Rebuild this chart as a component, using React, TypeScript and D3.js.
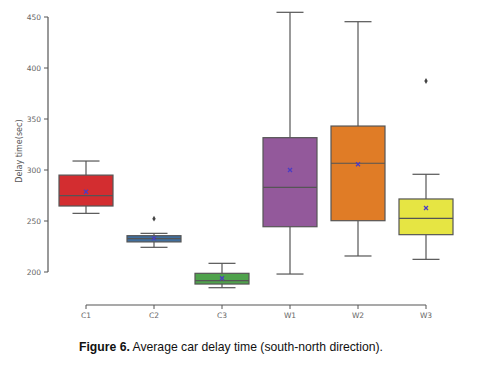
import React from "react";
import * as d3 from "d3";

const categories = ["C1", "C2", "C3", "W1", "W2", "W3"];
const whiskerLow = [257.5, 224.2, 184.6, 198, 215.7, 212.4];
const q1 = [264.7, 229.5, 188.2, 244.4, 250.3, 236.6];
const medians = [274.8, 232.7, 191.5, 283, 306.6, 252.6];
const q3 = [295, 235.6, 198.7, 331.7, 343.1, 271.6];
const whiskerHigh = [308.8, 237.9, 208.5, 454.6, 445.4, 295.8];
const means = [278.7, 233, 193.8, 300, 305.6, 262.7];
const outliers: [string, number][] = [["C2", 252.3], ["W3", 387.3]];
const colors = ["#d32d30", "#3f6e9e", "#4fa24c", "#93599b", "#e07c26", "#e6e543"];
const yTicks = [200, 250, 300, 350, 400, 450];

export default function App() {
  const W = 480, H = 373;
  const y = d3.scaleLinear().domain([200, 450]).range([272, 17]);
  const x = d3.scalePoint<string>().domain(categories).range([86, 426]);
  const bw = 54;
  const axisColor = "#555";
  const edge = "#555";
  return (
    <svg width={W} height={H} style={{ position: "absolute", left: 0, top: 0, background: "#fff" }}>
      {/* y axis */}
      <line x1={48} x2={48} y1={y(200)} y2={y(450)} stroke={axisColor} strokeWidth={1.2} />
      {yTicks.map((t) => (
        <g key={t}>
          <line x1={44} x2={48} y1={y(t)} y2={y(t)} stroke={axisColor} strokeWidth={1} />
          <text x={41} y={y(t)} dy="0.35em" textAnchor="end" fontSize={7.5} fill="#666" fontFamily="DejaVu Sans">
            {t}
          </text>
        </g>
      ))}
      <text
        transform={`translate(22,${y(318.5)}) rotate(-90)`}
        textAnchor="middle"
        fontSize={8}
        fill="#555"
        fontFamily="DejaVu Sans"
      >
        Delay time(sec)
      </text>
      {/* x axis */}
      <line x1={x("C1")} x2={x("W3")} y1={305} y2={305} stroke={axisColor} strokeWidth={1.2} />
      {categories.map((c) => (
        <g key={c}>
          <line x1={x(c)} x2={x(c)} y1={305} y2={309} stroke={axisColor} strokeWidth={1} />
          <text x={x(c)} y={318} textAnchor="middle" fontSize={7.5} fill="#666" fontFamily="DejaVu Sans">
            {c}
          </text>
        </g>
      ))}
      {/* boxes */}
      {categories.map((c, i) => {
        const cx = x(c) as number;
        return (
          <g key={c}>
            <line x1={cx} x2={cx} y1={y(whiskerHigh[i])} y2={y(q3[i])} stroke={edge} strokeWidth={1.2} />
            <line x1={cx} x2={cx} y1={y(q1[i])} y2={y(whiskerLow[i])} stroke={edge} strokeWidth={1.2} />
            <line x1={cx - bw / 4} x2={cx + bw / 4} y1={y(whiskerHigh[i])} y2={y(whiskerHigh[i])} stroke={edge} strokeWidth={1.2} />
            <line x1={cx - bw / 4} x2={cx + bw / 4} y1={y(whiskerLow[i])} y2={y(whiskerLow[i])} stroke={edge} strokeWidth={1.2} />
            <rect
              x={cx - bw / 2}
              width={bw}
              y={y(q3[i])}
              height={y(q1[i]) - y(q3[i])}
              fill={colors[i]}
              stroke={edge}
              strokeWidth={1.2}
            />
            <line x1={cx - bw / 2} x2={cx + bw / 2} y1={y(medians[i])} y2={y(medians[i])} stroke={edge} strokeWidth={1.2} />
            <g transform={`translate(${cx},${y(means[i])})`} stroke="#4b3cc4" strokeWidth={1.3}>
              <line x1={-2} x2={2} y1={-2} y2={2} />
              <line x1={-2} x2={2} y1={2} y2={-2} />
            </g>
          </g>
        );
      })}
      {outliers.map(([c, v], i) => (
        <path
          key={i}
          d={d3.symbol(d3.symbolDiamond, 10)() as string}
          transform={`translate(${x(c)},${y(v)})`}
          fill="#444"
        />
      ))}
      {/* caption */}
      <text x={79} y={351} fontSize={12.2} fontFamily="Liberation Sans, Arial" fill="#111">
        <tspan fontWeight="bold">Figure 6.</tspan>
        <tspan> Average car delay time (south-north direction).</tspan>
      </text>
    </svg>
  );
}
